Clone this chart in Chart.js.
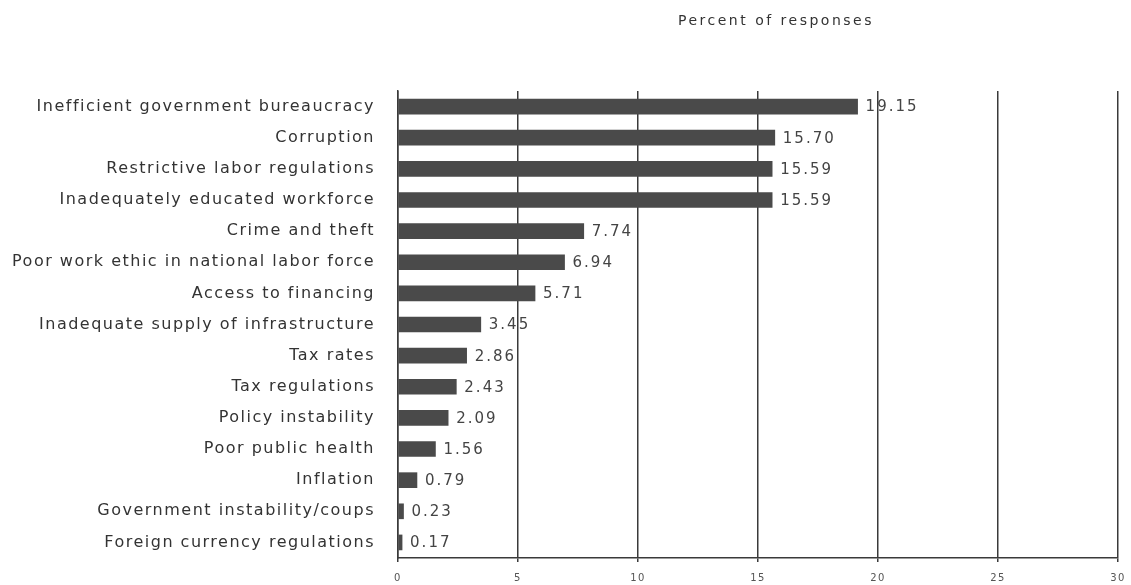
<!DOCTYPE html>
<html>
<head>
<meta charset="utf-8">
<title>Percent of responses</title>
<script src="https://cdn.jsdelivr.net/npm/chart.js@4/dist/chart.umd.min.js"></script>
<style>
  html, body { margin: 0; padding: 0; background: #fff; }
  #wrap { width: 1131px; height: 585px; }
</style>
</head>
<body>
<div id="wrap"><canvas id="chart" width="1131" height="585"></canvas></div>
<script>
// Données
const categories = [
    'Inefficient government bureaucracy',
    'Corruption',
    'Restrictive labor regulations',
    'Inadequately educated workforce',
    'Crime and theft',
    'Poor work ethic in national labor force',
    'Access to financing',
    'Inadequate supply of infrastructure',
    'Tax rates',
    'Tax regulations',
    'Policy instability',
    'Poor public health',
    'Inflation',
    'Government instability/coups',
    'Foreign currency regulations'
];
const percentValues = [19.15, 15.70, 15.59, 15.59, 7.74, 6.94, 5.71, 3.45, 2.86, 2.43, 2.09, 1.56, 0.79, 0.23, 0.17];
const xTicks = [0, 5, 10, 15, 20, 25, 30];
const chartTitle = 'Percent of responses';

const FONT = '"DejaVu Sans", Verdana, sans-serif';

// Le texte de l'original est étiré en largeur : on l'imite avec un espacement des lettres
const wideText = {
    id: 'wideText',
    beforeDraw(chart) {
        chart.ctx.letterSpacing = '1.5px';
    }
};

// Étiquettes de valeur à droite des barres + titre au-dessus de la zone du graphique
const valueLabels = {
    id: 'valueLabels',
    afterDatasetsDraw(chart) {
        const ctx = chart.ctx;
        const meta = chart.getDatasetMeta(0);
        ctx.save();
        ctx.letterSpacing = '2px';
        ctx.font = '15px ' + FONT;
        ctx.fillStyle = '#444';
        ctx.textAlign = 'left';
        ctx.textBaseline = 'middle';
        meta.data.forEach((bar, i) => {
            ctx.fillText(percentValues[i].toFixed(2), bar.x + 8, bar.y + 1);
        });

        ctx.letterSpacing = '2.5px';
        ctx.font = '14px ' + FONT;
        ctx.fillStyle = '#333';
        ctx.textAlign = 'center';
        ctx.fillText(chartTitle, 776, 21);
        ctx.restore();
    }
};

new Chart(document.getElementById('chart'), {
    type: 'bar',
    data: {
        labels: categories,
        datasets: [{
            data: percentValues,
            backgroundColor: '#4a4a4a',
            borderWidth: 0,
            barThickness: 15
        }]
    },
    options: {
        indexAxis: 'y',
        responsive: false,
        devicePixelRatio: 1,
        animation: false,
        layout: {
            padding: { top: 91, right: 13, bottom: 0, left: 0 }
        },
        plugins: {
            legend: { display: false },
            tooltip: { enabled: false },
            title: { display: false }
        },
        scales: {
            x: {
                min: 0,
                max: 30,
                afterBuildTicks(scale) {
                    scale.ticks = xTicks.map(v => ({ value: v }));
                },
                afterFit(scale) {
                    scale.height = 27;
                    scale.paddingRight = 0;
                    scale.paddingLeft = 0;
                },
                grid: {
                    color: '#3a3a3a',
                    lineWidth: 1.5,
                    tickLength: 4,
                    drawOnChartArea: true
                },
                border: { display: true, color: '#3a3a3a', width: 1.5 },
                ticks: {
                    font: { family: FONT, size: 10 },
                    color: '#555',
                    padding: 10,
                    maxRotation: 0
                }
            },
            y: {
                afterFit(scale) {
                    scale.width = 398;
                },
                grid: { display: false },
                border: { display: true, color: '#3a3a3a', width: 1.5 },
                ticks: {
                    font: { family: FONT, size: 16 },
                    color: '#333',
                    padding: 15,
                    autoSkip: false
                }
            }
        }
    },
    plugins: [wideText, valueLabels]
});
</script>
</body>
</html>
